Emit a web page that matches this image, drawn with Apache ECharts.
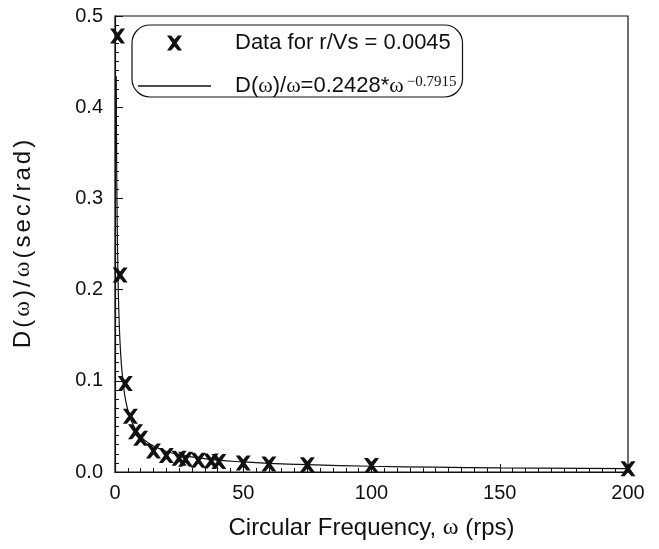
<!DOCTYPE html>
<html><head><meta charset="utf-8">
<script src="https://cdn.jsdelivr.net/npm/echarts@6/dist/echarts.min.js"></script>
<style>html,body{margin:0;padding:0;background:#fff}#c{width:659px;height:549px}</style>
</head><body><div id="c"></div>
<script>
// Measured data (circular frequency, rps) and D(w)/w (sec/rad)
const dataX = [1, 2, 4, 6, 8, 10, 15, 20, 25, 27.5, 32.5, 37.5, 40.5, 50, 60, 75, 100, 200];
const dataY = [0.478, 0.216, 0.097, 0.061, 0.044, 0.037, 0.023, 0.018, 0.015, 0.014, 0.013, 0.012, 0.0115, 0.0099, 0.0088, 0.008, 0.0072, 0.0036];
// Fitted curve, points
const fitX = [0.48, 0.55, 0.65, 0.75, 0.9, 1.1, 1.3, 1.6, 2, 2.5, 3, 3.5, 4, 5, 6, 7, 8, 10, 12, 15, 20, 25, 30, 40, 50, 60, 75, 100, 125, 150, 200];
const fitY = [0.434, 0.390, 0.342, 0.305, 0.264, 0.225, 0.197, 0.167, 0.140, 0.118, 0.102, 0.090, 0.081, 0.068, 0.059, 0.052, 0.047, 0.039, 0.034, 0.0285, 0.0227, 0.019, 0.0165, 0.0131, 0.011, 0.0095, 0.008, 0.0063, 0.0053, 0.0046, 0.0037];
const xTicks = [0, 50, 100, 150, 200];
const yTicks = [0.0, 0.1, 0.2, 0.3, 0.4, 0.5];

const dataName = 'Data for r/Vs = 0.0045';
const fitName = 'D(ω)/ω=0.2428*ω^-0.7915';
const yName = 'D(ω)/ω(sec/rad)';
const FONT = 'Liberation Sans';
const SERIF = 'Liberation Serif';
const INK = '#111';

const chart = echarts.init(document.getElementById('c'), null, {renderer: 'canvas'});
const XMARK = 'path://M0,0L3.8,0L7,3.8L10.2,0L14,0L9,7L14,14L10.2,14L7,10.2L3.8,14L0,14L5,7Z';

// spaced-out rich label for the y axis name
const yNameRich = Array.from(yName).map(c => '{' + (c === 'ω' ? 'w' : 't') + '|' + c + '}').join('');

const axisCommon = {
  axisLine: {show: true, onZero: false, lineStyle: {color: INK, width: 1.2}},
  axisTick: {show: true, inside: true, length: 8, lineStyle: {color: INK, width: 1}},
  minorTick: {show: true, splitNumber: 10, length: 4, lineStyle: {color: INK, width: 1}},
  splitLine: {show: false},
  minorSplitLine: {show: false}
};

chart.setOption({
  animation: false,
  backgroundColor: '#fff',
  grid: {left: 115, top: 16, width: 513, height: 456, show: true, borderColor: INK, borderWidth: 1.2, backgroundColor: 'transparent'},
  xAxis: Object.assign({
    type: 'value', min: xTicks[0], max: xTicks[xTicks.length - 1], interval: 50,
    name: '{t|Circular Frequency, }{w|ω}{t| (rps)}',
    nameLocation: 'middle', nameGap: 44,
    nameTextStyle: {rich: {
      t: {fontFamily: FONT, fontSize: 24, color: INK},
      w: {fontFamily: SERIF, fontSize: 24, color: INK}
    }},
    axisLabel: {fontFamily: FONT, fontSize: 20, color: INK, margin: 11}
  }, axisCommon),
  yAxis: Object.assign({
    type: 'value', min: yTicks[0], max: yTicks[yTicks.length - 1], interval: 0.1,
    name: yNameRich,
    nameLocation: 'middle', nameGap: 80,
    nameTextStyle: {rich: {
      t: {fontFamily: FONT, fontSize: 24, color: INK, padding: [0, 1.5, 0, 1.5]},
      w: {fontFamily: SERIF, fontSize: 24, color: INK, padding: [0, 1.5, 0, 1.5]}
    }},
    axisLabel: {fontFamily: FONT, fontSize: 20, color: INK, margin: 12, formatter: v => v.toFixed(1)}
  }, axisCommon),
  legend: {
    orient: 'vertical', left: 132, top: 25,
    padding: [7, 6, 0, 6],
    itemWidth: 73, itemHeight: 15, itemGap: 21,
    borderColor: INK, borderWidth: 1.2, borderRadius: 18,
    data: [
      {name: dataName},
      {name: fitName, icon: 'path://M0,0L73,0L73,1.3L0,1.3Z'}
    ],
    formatter: n => n === dataName ? '{t|' + dataName + '}' : '{t|D(}{w|ω}{t|)/}{w|ω}{t|=0.2428*}{w|ω}{s|−0.7915}',
    textStyle: {
      padding: [0, 0, 0, 19],
      rich: {
        t: {fontFamily: FONT, fontSize: 22, lineHeight: 22, color: INK},
        w: {fontFamily: SERIF, fontSize: 22, lineHeight: 22, color: INK},
        s: {fontFamily: SERIF, fontSize: 15, lineHeight: 12, color: INK, verticalAlign: 'top', padding: [0, 0, 0, 3]}
      }
    }
  },
  series: [
    {
      name: fitName, type: 'line', data: fitX.map((x, i) => [x, fitY[i]]),
      symbol: 'none', smooth: true, lineStyle: {color: INK, width: 1.2}, itemStyle: {color: INK}, z: 2
    },
    {
      name: dataName, type: 'scatter', data: dataX.map((x, i) => [x, dataY[i]]),
      symbol: XMARK, symbolSize: 15, itemStyle: {color: INK, opacity: 1}, z: 3
    }
  ]
});
</script></body></html>
